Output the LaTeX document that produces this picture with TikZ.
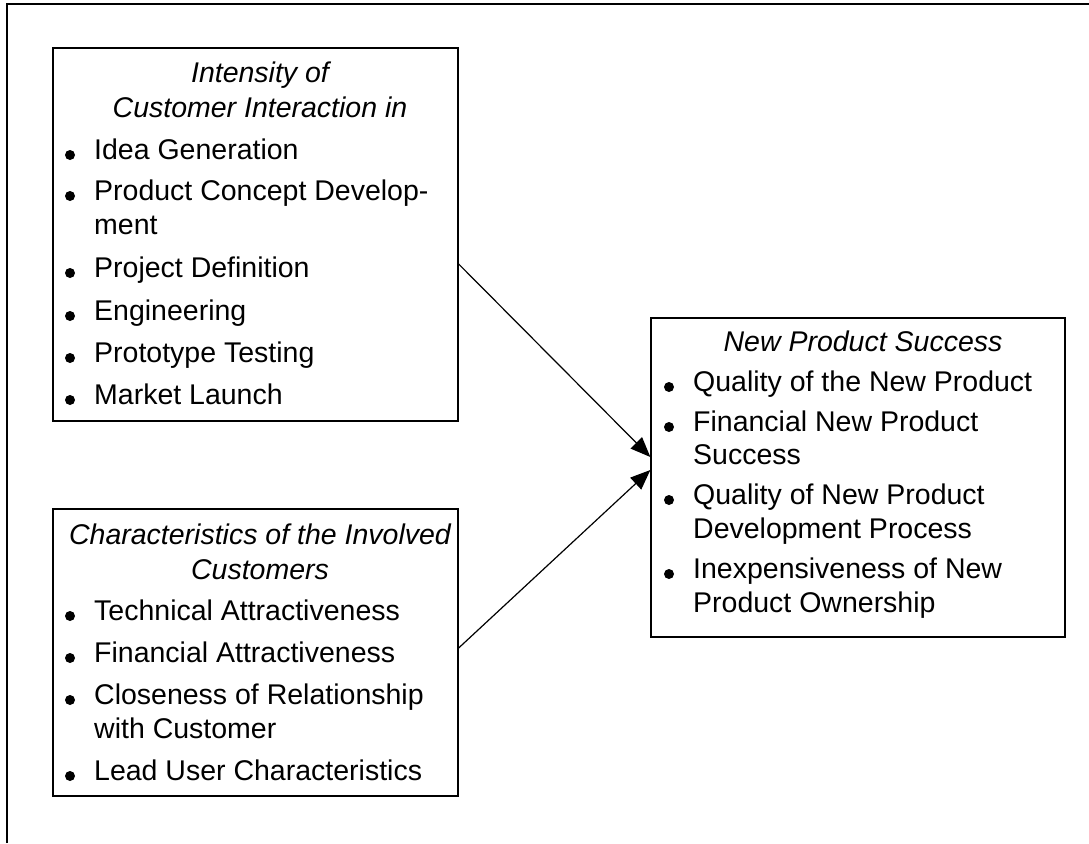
\documentclass[tikz,border=0pt]{standalone}
\usepackage{fontspec}
\setmainfont{Liberation Sans}
\usetikzlibrary{arrows.meta}
\begin{document}
\begin{tikzpicture}[x=1pt,y=-1pt,
  box/.style={draw, line width=1.3pt, inner sep=0pt, rectangle},
  txt/.style={anchor=base west, inner sep=0pt, font=\fontsize{28.5}{34}\selectfont},
  ttl/.style={anchor=base, inner sep=0pt, font=\fontsize{28.5}{34}\selectfont\itshape},
  conn/.style={line width=1.2pt, -{Triangle[length=20pt,width=16pt]}},
  blt/.style={fill=black}]
\useasboundingbox (0,0) rectangle (1089,843);
% outer frame (top and left only)
\draw[line width=2pt] (7,843) -- (7,4) -- (1089,4);
% boxes
\node[box, minimum width=405pt, minimum height=373pt] (b1) at (255.5,234.5) {};
\node[box, minimum width=405pt, minimum height=287pt] (b2) at (255.5,652.5) {};
\node[box, minimum width=414pt, minimum height=319pt] (b3) at (858,477.5) {};
% box 1 text
\node[ttl] (t1a) at (260,82) {Intensity of};
\node[ttl] (t1b) at (260,117) {Customer Interaction in};
\node[txt] (i1a) at (94,159) {Idea Generation};
\node[txt] (i1b) at (94,200) {Product Concept Develop-};
\node[txt] (i1c) at (94,234) {ment};
\node[txt] (i1d) at (94,277) {Project Definition};
\node[txt] (i1e) at (94,320) {Engineering};
\node[txt] (i1f) at (94,362) {Prototype Testing};
\node[txt] (i1g) at (94,404) {Market Launch};
\foreach \y in {159,200,277,320,362,404} \fill[blt] (70,\y-4) circle (5pt);
% box 2 text
\node[ttl] (t2a) at (260,544) {Characteristics of the Involved};
\node[ttl] (t2b) at (260,579) {Customers};
\node[txt] (i2a) at (94,620) {Technical Attractiveness};
\node[txt] (i2b) at (94,662) {Financial Attractiveness};
\node[txt] (i2c) at (94,704) {Closeness of Relationship};
\node[txt] (i2d) at (94,738) {with Customer};
\node[txt] (i2e) at (94,780) {Lead User Characteristics};
\foreach \y in {620,662,704,780} \fill[blt] (70,\y-4) circle (5pt);
% box 3 text
\node[ttl] (t3a) at (863,351) {New Product Success};
\node[txt] (i3a) at (693,391) {Quality of the New Product};
\node[txt] (i3b) at (693,431) {Financial New Product};
\node[txt] (i3c) at (693,464) {Success};
\node[txt] (i3d) at (693,504) {Quality of New Product};
\node[txt] (i3e) at (693,538) {Development Process};
\node[txt] (i3f) at (693,578) {Inexpensiveness of New};
\node[txt] (i3g) at (693,612) {Product Ownership};
\foreach \y in {391,431,504,578} \fill[blt] (669,\y-4) circle (5pt);
% connectors
\draw[conn] ([yshift=-29.5pt]b1.east) -- ([yshift=20.5pt]b3.west);
\draw[conn] ([yshift=4.5pt]b2.east) -- ([yshift=7.5pt]b3.west);
\end{tikzpicture}
\end{document}
